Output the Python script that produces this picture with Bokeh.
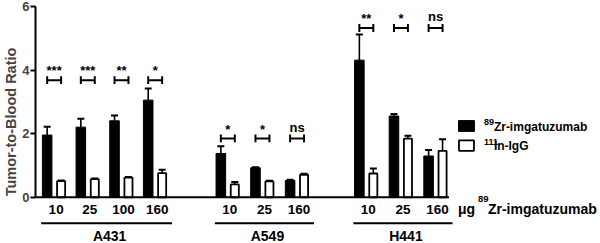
from bokeh.plotting import figure
from bokeh.models import Range1d, FixedTicker
from bokeh.core.properties import value
from bokeh.embed import file_html
from bokeh.resources import INLINE

# ---------------- data ----------------
cell_lines = ["A431", "A549", "H441"]
doses = [["10", "25", "100", "160"], ["10", "25", "160"], ["10", "25", "160"]]
zr_mean = [[1.96, 2.21, 2.41, 3.06], [1.38, 0.93, 0.53], [4.32, 2.56, 1.30]]
zr_err = [[0.26, 0.26, 0.17, 0.37], [0.23, 0.02, 0.02], [0.81, 0.06, 0.19]]
in_mean = [[0.51, 0.57, 0.62, 0.76], [0.41, 0.50, 0.71], [0.75, 1.85, 1.46]]
in_err = [[0.02, 0.02, 0.02, 0.11], [0.07, 0.02, 0.03], [0.16, 0.09, 0.37]]
signif = [["***", "***", "**", "*"], ["*", "*", "ns"], ["**", "*", "ns"]]
bracket_level = [3.69, 1.855, 5.33]
series_labels = [("89", "Zr-imgatuzumab"), ("111", "In-IgG")]
x_title = ("\u03bcg ", "89", "Zr-imgatuzumab")
y_title = "Tumor-to-Blood Ratio"
y_ticks = [0, 2, 4, 6]

# ---------------- layout constants (x in reference pixel units) ----------------
group_start = [51.7, 226.0, 365.0]
group_step = [33.8, 34.75, 34.75]
bar_off = 7.0
bar_w = 9.6
FONT = value("Liberation Sans")
PX_PER_UNIT = 243 / (6.198 + 1.455)


def base(y, fs):
    """baseline in data units, compensating the SVG text offset"""
    return y + 0.35 * fs / PX_PER_UNIT


p = figure(width=600, height=243, output_backend="svg", toolbar_location=None,
           x_range=Range1d(33, 600), y_range=Range1d(-1.455, 6.198),
           x_axis_location=None, min_border_left=33, min_border_right=0,
           min_border_top=0, min_border_bottom=0)
p.grid.visible = False
p.outline_line_color = None
p.background_fill_color = "white"
p.border_fill_color = "white"

ax = p.yaxis[0]
ax.bounds = (0, 6)
ax.ticker = FixedTicker(ticks=y_ticks)
ax.axis_label = y_title
ax.axis_label_text_font = "Liberation Sans"
ax.axis_label_text_font_style = "bold"
ax.axis_label_text_font_size = "14.5px"
ax.axis_label_text_line_height = 0.3
ax.axis_label_standoff = 0
ax.major_label_text_font = "Liberation Sans"
ax.major_label_text_font_style = "bold"
ax.major_label_text_font_size = "13px"
ax.major_label_standoff = 1
ax.axis_line_width = 2
ax.major_tick_line_width = 2
ax.major_tick_out = 5
ax.major_tick_in = 0
ax.minor_tick_line_color = None

xb, xw, zm, ze, im, ie = [], [], [], [], [], []
mids, dlab, slab, slev = [], [], [], []
ul_x0, ul_x1, cl_x = [], [], []
for g, cl in enumerate(cell_lines):
    n = len(doses[g])
    ms = [group_start[g] + group_step[g] * i for i in range(n)]
    for i in range(n):
        mids.append(ms[i])
        xb.append(ms[i] - bar_off)
        xw.append(ms[i] + bar_off)
        zm.append(zr_mean[g][i]); ze.append(zr_err[g][i])
        im.append(in_mean[g][i]); ie.append(in_err[g][i])
        dlab.append(doses[g][i]); slab.append(signif[g][i]); slev.append(bracket_level[g])
    ul_x0.append(ms[0] - 13)
    ul_x1.append(ms[-1] + 17)
    cl_x.append((ms[0] - 13 + ms[-1] + 17) / 2 + 3)

# error bars (upward only)
ex = xb + xw
ey0 = zm + im
ey1 = [m + e for m, e in zip(zm + im, ze + ie)]
p.segment(x0=ex, y0=ey0, x1=ex, y1=ey1, line_color="black", line_width=1.6)
p.segment(x0=[x - 3.5 for x in ex], y0=ey1, x1=[x + 3.5 for x in ex], y1=ey1,
          line_color="black", line_width=2)

# bars
p.vbar(x=xb, top=zm, bottom=0, width=bar_w, fill_color="black", line_color="black", line_width=1)
p.vbar(x=xw, top=im, bottom=0, width=bar_w - 1.5, fill_color="white", line_color="black", line_width=1.8)

# x axis baseline
p.segment(x0=[33], y0=[0], x1=[448], y1=[0], line_color="black", line_width=2)

# significance brackets
p.segment(x0=xb, y0=slev, x1=xw, y1=slev, line_color="black", line_width=2)
p.segment(x0=xb + xw, y0=[s - 0.125 for s in slev] * 2, x1=xb + xw, y1=[s + 0.125 for s in slev] * 2,
          line_color="black", line_width=2)
star_y = [base(s + (0.15 if t != "ns" else 0.21), 13) for s, t in zip(slev, slab)]
p.text(x=mids, y=star_y, text=slab, text_font=FONT, text_font_style="bold",
       text_font_size="13px", text_align="center", text_baseline="alphabetic")

# dose labels
p.text(x=[m + 2 for m in mids], y=[base(-0.52, 13.5)] * len(mids), text=dlab, text_font=FONT,
       text_font_style="bold", text_font_size="13.5px", text_align="center", text_baseline="alphabetic")
# underlines and cell line names
p.segment(x0=ul_x0, y0=[-0.816] * 3, x1=ul_x1, y1=[-0.816] * 3, line_color="black", line_width=2)
p.text(x=cl_x, y=[base(-1.36, 14)] * 3, text=cell_lines, text_font=FONT, text_font_style="bold",
       text_font_size="14px", text_align="center", text_baseline="alphabetic")

# x title
p.text(x=[457], y=[base(-0.52, 14)], text=[x_title[0]], text_font=FONT, text_font_style="bold",
       text_font_size="14px", text_align="left", text_baseline="alphabetic")
p.text(x=[477], y=[base(-0.17, 9.5)], text=[x_title[1]], text_font=FONT, text_font_style="bold",
       text_font_size="9.5px", text_align="left", text_baseline="alphabetic")
p.text(x=[487], y=[base(-0.52, 14)], text=[x_title[2]], text_font=FONT, text_font_style="bold",
       text_font_size="14px", text_align="left", text_baseline="alphabetic")

# legend
p.rect(x=[465.5, 465.5], y=[2.246, 1.63], width=[16, 15], height=[0.34, 0.33],
       fill_color=["black", "white"], line_color="black", line_width=[1, 1.8])
p.text(x=[483, 483], y=[base(2.26, 9), base(1.63, 9)], text=[s[0] for s in series_labels], text_font=FONT,
       text_font_style="bold", text_font_size="9px", text_align="left", text_baseline="alphabetic")
p.text(x=[493, 493], y=[base(2.08, 12), base(1.496, 12)], text=[s[1] for s in series_labels], text_font=FONT,
       text_font_style="bold", text_font_size="12px", text_align="left", text_baseline="alphabetic")

open("out.html", "w").write(file_html(p, INLINE))
